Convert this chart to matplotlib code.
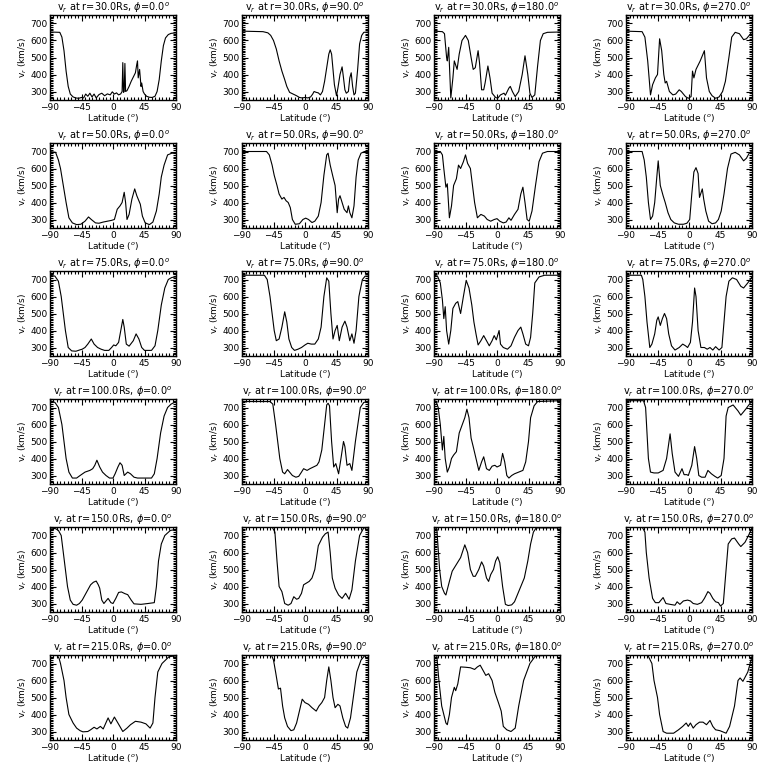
import matplotlib
matplotlib.use('Agg')
from matplotlib import pyplot as plt
from matplotlib.ticker import MultipleLocator

radii = [30.0, 50.0, 75.0, 100.0, 150.0, 215.0]
phis = [0.0, 90.0, 180.0, 270.0]

# (latitude deg, v_r km/s)
r30_p0 = [(-90,650),(-76,648),(-73,620),(-70,540),(-67,420),(-64,330),(-61,285),(-57,268),(-53,262),(-49,260),(-45,265),(-42,262),(-39,285),(-36,272),(-33,290),(-30,268),(-27,285),(-24,262),(-20,282),(-16,290),(-12,275),(-8,286),(-4,280),(-1,298),(2,285),(5,292),(8,280),(11,286),(13,300),(14,470),(15,295),(16,300),(17,465),(18,300),(20,305),(23,330),(26,360),(29,385),(32,410),(34,460),(35,480),(36,380),(38,430),(40,330),(41,350),(43,300),(45,285),(48,272),(52,266),(56,265),(60,272),(63,300),(66,370),(69,480),(72,570),(75,615),(79,635),(83,642),(90,645)]
r30_p90 = [(-90,655),(-60,652),(-53,645),(-49,630),(-45,600),(-41,550),(-37,480),(-33,420),(-29,370),(-26,330),(-22,295),(-17,285),(-12,275),(-8,265),(-4,262),(0,265),(4,262),(8,268),(11,285),(13,300),(16,295),(19,292),(22,280),(25,300),(28,360),(31,440),(34,520),(36,545),(38,520),(40,430),(42,340),(45,275),(47,320),(50,400),(53,445),(55,380),(57,310),(59,290),(62,300),(64,380),(66,410),(68,330),(70,280),(72,290),(75,420),(78,580),(81,630),(84,648),(90,650)]
r30_p180 = [(-90,655),(-78,652),(-75,640),(-72,500),(-71,480),(-69,560),(-66,262),(-63,380),(-61,480),(-57,430),(-54,520),(-50,600),(-45,630),(-41,600),(-37,500),(-34,430),(-31,440),(-27,540),(-25,470),(-22,310),(-19,310),(-17,350),(-13,450),(-10,380),(-7,290),(-2,265),(1,260),(5,280),(10,290),(12,278),(17,320),(19,330),(22,300),(26,270),(31,300),(36,400),(40,510),(44,400),(47,290),(50,265),(54,280),(58,450),(62,600),(66,640),(72,648),(90,650)]
r30_p270 = [(-90,655),(-67,652),(-63,620),(-59,480),(-55,280),(-52,340),(-48,380),(-45,400),(-42,610),(-39,540),(-36,400),(-34,350),(-32,360),(-28,300),(-23,280),(-19,285),(-14,310),(-11,300),(-5,270),(-1,260),(3,270),(5,420),(7,380),(10,430),(16,480),(22,540),(25,380),(29,300),(33,275),(38,260),(43,268),(48,300),(52,360),(57,500),(61,620),(66,648),(72,640),(78,605),(82,610),(86,630),(90,650)]

r50_p0 = [(-90,700),(-82,695),(-78,650),(-75,600),(-71,500),(-67,400),(-63,310),(-58,280),(-52,270),(-46,272),(-40,290),(-35,315),(-31,300),(-25,280),(-20,278),(-14,285),(-8,290),(-2,295),(2,300),(6,360),(10,380),(13,400),(16,460),(18,400),(20,300),(23,330),(27,420),(31,480),(34,440),(39,390),(42,320),(46,280),(52,270),(57,285),(62,350),(66,450),(69,550),(73,620),(78,680),(84,690),(90,690)]
r50_p90 = [(-90,700),(-55,700),(-51,680),(-47,620),(-44,560),(-40,500),(-37,450),(-33,420),(-30,430),(-27,410),(-24,400),(-21,370),(-18,300),(-14,272),(-8,275),(-3,300),(1,308),(5,300),(10,282),(14,290),(19,320),(23,400),(27,560),(31,680),(33,690),(36,620),(40,550),(43,500),(46,340),(48,420),(50,440),(53,400),(56,360),(60,340),(62,380),(64,340),(67,310),(70,380),(73,550),(76,650),(80,690),(85,700),(90,700)]
r50_p180 = [(-90,700),(-81,700),(-78,680),(-76,600),(-73,490),(-71,510),(-68,310),(-65,380),(-62,500),(-58,540),(-55,620),(-52,600),(-48,640),(-45,680),(-42,630),(-38,600),(-35,500),(-32,400),(-28,310),(-23,330),(-18,320),(-14,300),(-9,290),(-4,300),(0,305),(4,290),(9,280),(13,285),(17,310),(20,295),(25,330),(30,360),(34,450),(37,490),(40,400),(43,300),(46,290),(50,350),(55,500),(60,640),(65,690),(72,700),(90,700)]
r50_p270 = [(-90,700),(-67,700),(-64,650),(-61,550),(-58,400),(-55,300),(-52,320),(-49,400),(-46,550),(-44,645),(-41,500),(-37,440),(-34,400),(-30,340),(-26,300),(-21,280),(-15,272),(-8,272),(-3,278),(1,300),(4,450),(7,580),(10,605),(13,570),(15,430),(19,480),(21,420),(24,350),(28,290),(33,275),(38,280),(42,300),(46,350),(50,450),(55,600),(60,685),(66,695),(72,680),(78,645),(82,660),(86,690),(90,705)]

r75_p0 = [(-90,725),(-83,720),(-78,690),(-74,600),(-71,500),(-68,400),(-64,300),(-59,280),(-53,278),(-48,285),(-44,290),(-40,300),(-36,320),(-31,350),(-27,320),(-22,300),(-17,290),(-12,283),(-6,283),(-2,300),(1,315),(4,310),(8,330),(12,420),(14,465),(16,420),(19,320),(23,308),(29,340),(33,380),(37,350),(41,300),(45,283),(55,283),(60,310),(64,400),(69,550),(74,650),(79,700),(84,712),(90,715)]
r75_p90 = [(-90,725),(-58,725),(-54,700),(-50,600),(-47,500),(-44,400),(-41,340),(-37,350),(-33,420),(-29,510),(-26,450),(-23,350),(-19,300),(-15,283),(-10,290),(-5,300),(0,315),(4,325),(9,320),(14,320),(19,350),(23,420),(27,600),(31,710),(34,690),(37,500),(40,350),(43,400),(46,430),(49,340),(53,420),(57,455),(60,420),(64,340),(67,380),(70,325),(73,400),(77,600),(82,700),(86,720),(90,720)]
r75_p180 = [(-90,725),(-85,720),(-81,680),(-78,580),(-76,470),(-74,540),(-72,400),(-69,320),(-66,400),(-63,530),(-59,560),(-56,570),(-52,500),(-48,600),(-44,695),(-40,650),(-36,550),(-33,450),(-30,380),(-27,315),(-23,340),(-19,370),(-15,340),(-11,310),(-7,340),(-4,370),(-1,345),(3,400),(5,320),(9,300),(15,290),(20,310),(25,360),(30,400),(34,420),(37,380),(41,320),(45,310),(48,360),(51,500),(54,680),(60,715),(68,725),(90,725)]
r75_p270 = [(-90,725),(-68,725),(-66,700),(-63,600),(-60,450),(-56,300),(-53,320),(-49,380),(-46,460),(-44,480),(-41,430),(-38,470),(-35,500),(-32,470),(-29,380),(-25,310),(-20,285),(-14,300),(-9,320),(-5,310),(-2,300),(2,330),(5,450),(8,650),(10,600),(13,400),(17,300),(22,300),(26,290),(30,300),(34,285),(38,305),(43,285),(47,300),(50,450),(53,600),(57,690),(62,710),(68,700),(74,660),(78,650),(84,680),(90,715)]

r100_p0 = [(-90,740),(-83,730),(-78,700),(-73,600),(-70,500),(-67,400),(-63,320),(-58,285),(-52,285),(-47,300),(-40,320),(-33,330),(-29,340),(-26,360),(-23,390),(-19,350),(-15,320),(-10,300),(-5,285),(0,285),(3,310),(7,350),(10,375),(13,360),(16,300),(21,320),(25,310),(30,290),(35,285),(55,285),(59,310),(63,400),(68,550),(73,650),(78,700),(83,720),(90,735)]
r100_p90 = [(-90,735),(-50,735),(-46,720),(-42,600),(-39,500),(-36,400),(-32,320),(-29,310),(-25,335),(-21,315),(-18,300),(-13,290),(-9,295),(-5,320),(-2,340),(3,330),(7,340),(12,350),(17,360),(20,380),(24,450),(28,600),(31,715),(33,725),(35,710),(38,500),(41,350),(44,370),(48,310),(51,390),(55,500),(57,470),(60,360),(64,370),(67,330),(72,500),(79,700),(84,730),(90,735)]
r100_p180 = [(-90,740),(-87,735),(-84,700),(-81,600),(-78,450),(-76,530),(-74,400),(-71,320),(-68,350),(-65,400),(-62,420),(-58,440),(-54,550),(-46,640),(-43,690),(-40,640),(-37,520),(-34,470),(-30,400),(-26,330),(-22,380),(-19,410),(-15,340),(-11,330),(-7,355),(-3,360),(0,350),(5,360),(8,430),(11,380),(14,300),(17,285),(21,300),(25,310),(31,320),(37,330),(41,380),(45,500),(48,640),(53,710),(58,735),(90,740)]
r100_p270 = [(-90,740),(-65,740),(-62,700),(-60,550),(-58,400),(-55,320),(-50,315),(-44,315),(-37,330),(-32,400),(-27,545),(-24,430),(-20,320),(-15,295),(-10,340),(-7,305),(-3,305),(-1,300),(4,360),(8,470),(11,400),(14,300),(18,290),(23,290),(27,330),(32,310),(37,295),(41,285),(46,300),(50,400),(53,650),(56,700),(63,715),(70,680),(74,655),(81,690),(90,740)]

r150_p0 = [(-90,745),(-82,740),(-78,730),(-74,700),(-71,600),(-68,500),(-65,400),(-61,320),(-57,295),(-52,290),(-48,300),(-44,320),(-40,350),(-36,380),(-32,410),(-28,425),(-24,432),(-21,410),(-19,390),(-16,320),(-13,300),(-9,320),(-7,330),(-3,305),(0,300),(4,330),(8,365),(12,368),(17,358),(21,352),(26,320),(30,298),(40,295),(50,300),(59,305),(62,400),(65,550),(69,650),(74,700),(82,730),(90,735)]
r150_p90 = [(-90,750),(-47,750),(-43,720),(-40,550),(-37,400),(-33,370),(-29,300),(-24,290),(-20,300),(-16,340),(-12,325),(-9,330),(-5,360),(-2,410),(2,420),(6,430),(10,450),(14,500),(19,640),(25,690),(29,710),(33,720),(36,600),(39,450),(43,390),(48,350),(53,330),(58,360),(63,325),(67,380),(72,550),(78,700),(84,745),(90,745)]
r150_p180 = [(-90,750),(-86,740),(-82,500),(-79,400),(-75,360),(-73,350),(-68,430),(-64,490),(-58,530),(-52,570),(-46,645),(-42,600),(-38,500),(-34,460),(-31,460),(-26,500),(-22,545),(-19,520),(-15,450),(-12,430),(-9,470),(-5,500),(-2,550),(1,575),(4,540),(8,400),(12,295),(16,288),(21,292),(25,310),(29,350),(34,400),(39,450),(44,550),(48,650),(52,720),(56,745),(90,745)]
r150_p270 = [(-90,750),(-67,750),(-63,720),(-61,600),(-57,450),(-52,330),(-48,305),(-43,305),(-37,335),(-33,300),(-27,295),(-20,290),(-17,310),(-13,295),(-8,315),(-2,320),(2,315),(6,300),(12,295),(18,305),(22,330),(27,370),(30,360),(34,330),(38,310),(42,305),(45,285),(49,300),(52,450),(56,650),(61,680),(65,685),(71,650),(74,635),(80,660),(85,700),(90,745)]

r215_p0 = [(-90,750),(-80,750),(-77,730),(-75,700),(-70,600),(-67,500),(-63,400),(-57,350),(-52,320),(-47,305),(-43,298),(-36,300),(-32,310),(-27,325),(-23,315),(-18,330),(-14,315),(-7,380),(-3,345),(2,385),(7,350),(14,300),(20,320),(25,340),(32,360),(40,355),(47,345),(53,320),(57,350),(60,500),(64,650),(70,700),(80,740),(90,745)]
r215_p90 = [(-90,750),(-48,750),(-45,720),(-42,650),(-38,550),(-35,555),(-32,450),(-29,380),(-25,330),(-20,305),(-16,310),(-12,350),(-8,420),(-4,490),(0,470),(5,460),(10,440),(16,420),(20,450),(24,470),(28,500),(31,600),(34,680),(37,600),(40,500),(43,440),(47,460),(50,450),(54,380),(58,330),(61,320),(65,380),(69,500),(74,650),(80,720),(86,750),(90,750)]
r215_p180 = [(-90,750),(-86,745),(-83,600),(-79,450),(-73,350),(-71,340),(-68,400),(-65,500),(-61,560),(-59,540),(-56,580),(-52,680),(-45,678),(-38,675),(-32,665),(-28,680),(-24,690),(-20,660),(-16,630),(-12,640),(-7,600),(-3,530),(2,470),(6,420),(9,330),(14,310),(20,300),(26,320),(31,450),(38,600),(47,700),(55,745),(90,750)]
r215_p270 = [(-90,750),(-59,750),(-53,700),(-50,600),(-45,500),(-42,400),(-37,300),(-32,290),(-22,290),(-15,310),(-9,330),(-4,350),(-1,330),(2,350),(6,320),(10,340),(15,355),(20,355),(25,340),(30,365),(34,330),(38,310),(44,305),(50,295),(53,290),(58,330),(65,450),(70,600),(73,615),(77,595),(84,650),(90,740)]

panels = [
    [r30_p0, r30_p90, r30_p180, r30_p270],
    [r50_p0, r50_p90, r50_p180, r50_p270],
    [r75_p0, r75_p90, r75_p180, r75_p270],
    [r100_p0, r100_p90, r100_p180, r100_p270],
    [r150_p0, r150_p90, r150_p180, r150_p270],
    [r215_p0, r215_p90, r215_p180, r215_p270],
]

fig = plt.figure(figsize=(7.68, 7.68), dpi=100)

for j, r in enumerate(radii):
    for i, phi in enumerate(phis):
        ax = fig.add_axes([(50 + 192 * i) / 768, 1 - (100 + 128 * j) / 768, 126 / 768, 85 / 768])
        lat, v = zip(*panels[j][i])
        ax.plot(lat, v, color='black', linewidth=0.8)
        ax.set_xlim(-90, 90)
        ax.set_ylim(250, 750)
        ax.set_xticks([-90, -45, 0, 45, 90])
        ax.set_yticks([300, 400, 500, 600, 700])
        ax.xaxis.set_minor_locator(MultipleLocator(5))
        ax.yaxis.set_minor_locator(MultipleLocator(10))
        ax.tick_params(which='both', direction='in', top=True, right=True, labelsize=6.5, width=0.8, pad=2)
        ax.tick_params(which='major', length=4)
        ax.tick_params(which='minor', length=2)
        for s in ax.spines.values():
            s.set_linewidth(1.0)
        ax.set_title(f'v$_r$ at r={r:.1f}Rs, $\\phi$={phi:.1f}$^o$', fontsize=7, pad=1.5)
        ax.set_xlabel('Latitude ($^o$)', fontsize=6.5, labelpad=0.5)
        ax.set_ylabel('v$_r$ (km/s)', fontsize=6.5, labelpad=1)

fig.savefig('out.png', dpi=100)
plt.close()
